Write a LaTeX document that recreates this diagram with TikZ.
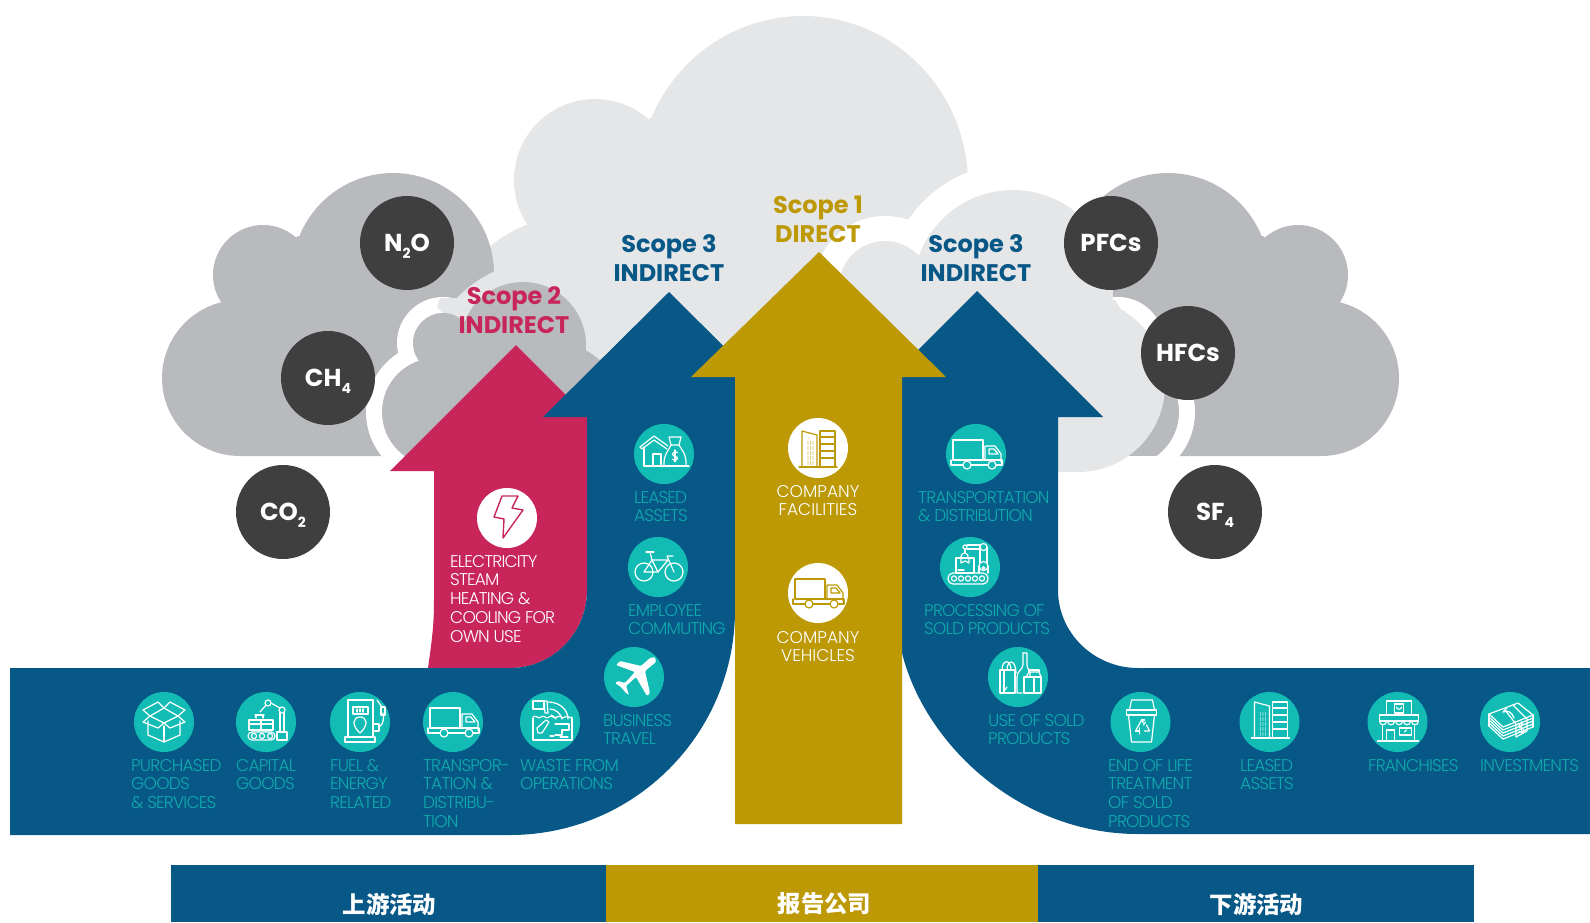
\documentclass[tikz,border=0pt]{standalone}
\usepackage{fontspec}
\setmainfont{Poppins}
\newfontfamily\lightf{Poppins Light}[LetterSpace=-4.8]
\newfontfamily\lightw{Poppins Light}
\newfontfamily\cjk{Noto Sans CJK SC}
\definecolor{cpink}{HTML}{C8265B}
\definecolor{cblue}{HTML}{075787}
\definecolor{cgold}{HTML}{BC9905}
\definecolor{cdark}{HTML}{3F3F40}
\definecolor{cgray}{HTML}{B9BABD}
\definecolor{clight}{HTML}{E5E6E8}
\definecolor{cteal}{HTML}{12BCB5}
\definecolor{ctext}{HTML}{10AAAC}
\newcommand{\gsub}[1]{\smash{\raisebox{-.3em}{\fontsize{14}{14}\selectfont #1}}}
\tikzset{
  gas/.style={circle,fill=cdark,minimum size=94pt,inner sep=0pt,text=white,font=\bfseries\fontsize{24.5}{28}\selectfont},
  teal/.style={circle,fill=cteal,minimum size=60pt,inner sep=0pt},
  whitec/.style={circle,fill=white,minimum size=60pt,inner sep=0pt},
  lab/.style={anchor=north west,inner sep=0pt,align=left,text=ctext,font=\lightf\fontsize{17}{18.7}\selectfont},
  labw/.style={lab,text=white},
  labc/.style={anchor=north,inner sep=0pt,align=center,text=white,font=\lightw\fontsize{17}{18.7}\selectfont},
  scope title/.style={inner sep=0pt,align=center,font=\bfseries\fontsize{24}{28.5}\selectfont},
  bar label/.style={inner sep=0pt,text=white,font=\cjk\bfseries\fontsize{23.4}{26}\selectfont},
  icw/.style={color=white,line width=1.2pt,line join=round,line cap=round},
  icg/.style={color=cgold,line width=1.2pt,line join=round,line cap=round},
  icp/.style={color=cpink,line width=1.4pt,line join=round,line cap=round},
  pics/icbox/.style={code={
    \draw (-16,-1)--(-16,13)--(0,20)--(16,13)--(16,-1);
    \draw (0,4)--(0,20);
    \draw (0,-14)--(14,-6)--(0,1)--(-14,-6)--cycle;
    \draw (-14,-6)--(-21,-12)--(-6,-20)--(0,-14)--(6,-20)--(21,-12)--(14,-6);
    \draw (-14,-6)--(-21,0)--(-6,6)--(0,1)--(6,6)--(21,0)--(14,-6);
  }},
  pics/icrobot/.style={code={
    \draw[rounded corners=4pt] (-18,10)rectangle(9,18);
    \foreach \q in {-12,-4,4}{\draw (\q,14) circle[radius=2.6];}
    \draw (-17,-2)rectangle(-5,8);\draw (-5,-2)rectangle(7,8);
    \draw (-17,2)--(7,2);
    \draw (11,10)rectangle(21,18);
    \draw (14,10)--(14,-10);\draw (18,10)--(18,-10);
    \draw (16,-12) circle[radius=3];\draw (2,-19) circle[radius=3];
    \draw (5,-19)--(14,-14);\draw (0,-17)--(-6,-10);
    \draw (-11,-7)--(-2,-7);\draw (-10,-7)--(-10,-4);\draw (-3,-7)--(-3,-4);
  }},
  pics/icfuel/.style={code={
    \draw (-12,15)--(-12,-22)--(13,-22)--(13,15);
    \draw (-15,15)rectangle(15,20);
    \draw (-7,-15)rectangle(8,-8);
    \foreach \q in {-3,0,3}{\draw (\q,-13)--(\q,-10);}
    \draw (0,11) .. controls (-9,3) and (-7,-5) .. (0,-5) .. controls (7,-5) and (9,3) .. (0,11);
    \draw (13,2)--(19,2)--(19,9)--(13,9);
    \draw (19,5) .. controls (24,3) and (24,-6) .. (23,-9);
    \draw (21,-15)rectangle(25,-7);
    \draw (17,-22)--(22,-15);
  }},
  pics/ictruck/.style={code={
    \draw (-23,6)--(-23,-14)--(7,-14)--(7,6);
    \draw (9,6)--(9,-8)--(19,-8)--(25,0)--(25,8);
    \draw (13,-5)--(18,-5)--(22,0)--(13,0)--cycle;
    \draw (-23,6)--(25,6);
    \draw (-25,11)--(-13,11);\draw (-5,11)--(12,11);\draw (20,11)--(26,11);\draw (-25,6)--(-25,11);\draw (26,6)--(26,11);
    \draw (-9,11) circle[radius=4];\draw (16,11) circle[radius=4];
  }},
  pics/icwaste/.style={code={
    \draw (-17,-13)rectangle(-6,-21);\draw (-6,-21)--(-3,-21)--(-2,-9)--(-5,-9)--cycle;
    \draw (-2,-20) .. controls (10,-20) and (18,-12) .. (18,-3);
    \draw (0,-13) .. controls (6,-13) and (11,-8) .. (12,-3);
    \draw (1,-7) .. controls (3,-6) and (5,-5) .. (6,-3);
    \draw (-17,-5) .. controls (-14,-8) and (-12,-2) .. (-9,-5) .. controls (-6,-8) and (-4,-2) .. (-1,-5) .. controls (2,-8) and (4,-2) .. (7,-5) .. controls (10,-8) and (12,-2) .. (15,-5) .. controls (18,-8) and (20,-2) .. (22,-5);
    \draw (-17,-4)--(-17,18)--(22,18)--(22,-4);
    \draw (-13,6)--(-4,-2)--(-1,0)--(-8,11)--(-12,11)--cycle;
    \draw (5,2)--(19,2)--(19,8)--(12,8)--(12,13)--(5,13);
    \draw (0,14)--(4,14);\draw (10,15)--(18,15);
  }},
  pics/icplane/.style={code={
    \fill[rounded corners=1.2pt] (21,-20)--(22,-15)--(11,-6)--(16,16)--(13,19)--(2,0)--(-8,9)--(-5,18)--(-8,16)--(-13,10)--(-19,6)--(-16,4)--(-9,6)--(1,-5)--(-18,-12)--(-14,-16)--(7,-11)--(16,-19)--cycle;
  }},
  pics/ichouse/.style={code={
    \draw (-24,-7)--(-10,-18)--(4,-8);\draw (-24,-7)--(-22,-5)--(-10,-14)--(3,-5);
    \draw (-20,-7)--(-20,12)--(25,12);
    \draw (-11,12)--(-11,0)--(-3,0)--(-3,12);
    \draw (0,12) .. controls (-1,0) and (6,-5) .. (7,-9)--(15,-9) .. controls (17,-5) and (23,0) .. (22,12);
    \draw (7,-9)--(5,-17)--(17,-17)--(15,-9);
    \begin{scope}[shift={(11,1)},scale=.85]
      \draw (3,-3) .. controls (1,-5) and (-3,-4) .. (-3,-1) .. controls (-3,2) and (3,1) .. (3,4) .. controls (3,7) and (-1,7) .. (-3,5);
      \draw (0,-6)--(0,8);
    \end{scope}
  }},
  pics/icbike/.style={code={
    \draw (-14,5) circle[radius=9];\draw (16,5) circle[radius=9];
    \draw (-14,5)--(0,5)--(10,-7)--(-6,-7)--cycle;
    \draw (-6,-7)--(0,5);\draw (-6,-7)--(-8,-15);\draw (-12,-15)--(-4,-15);
    \draw (16,5)--(9,-11)--(15,-11);
  }},
  pics/icproc/.style={code={
    \draw[rounded corners=5pt] (-22,6)rectangle(18,17);
    \foreach \q in {-16,-9,-2,5,12}{\draw (\q,11.5) circle[radius=2.6];}
    \draw (-14,-9)rectangle(4,6);\draw (-9,-9)--(-9,-4)--(-5,-6)--(-1,-4)--(-1,-9);
    \draw (-12,3)--(-6,3);
    \draw (9,6)--(9,-1);\draw (18,6)--(18,-1);\draw (13.5,-1) circle[radius=4.5];\draw (13.5,1) circle[radius=1.4];
    \draw (10,-4)--(10,-20);\draw (17,-4)--(17,-20);
    \draw (13.5,-20) circle[radius=3.5];
    \draw (10,-22)--(-3,-22);\draw (10,-18)--(-3,-18);
    \draw (-5,-20) circle[radius=2];\draw (-5,-18)--(-5,-14);
    \draw (-9,-10) .. controls (-9,-14) and (-5,-14) .. (-5,-14) .. controls (-2,-14) and (-2,-11) .. (-2,-10);
  }},
  pics/icuse/.style={code={
    \draw (-18,-7)rectangle(-3,16);\draw (-14,-7)--(-14,16);
    \draw (-16,-7) .. controls (-16,-18) and (-7,-18) .. (-7,-7);
    \draw (-11,-7) .. controls (-11,-18) and (-2,-18) .. (-2,-4);
    \draw (-15,10)--(-13,13)--(-11,10);
    \draw (5,-24)--(9,-24)--(9,-12) .. controls (9,-8) and (13,-6) .. (12,-1);
    \draw (5,-24)--(5,-12) .. controls (5,-8) and (-1,-6) .. (-1,0)--(-1,16)--(4,16);
    \draw (6,16)--(23,16)--(23,0)--(6,0)--cycle;
    \draw (8,0)--(11,-5)--(21,-5)--(23,0);\draw (11,-5)--(11,-7)--(21,-7)--(21,-5);
    \draw (16,0)--(16,16);
  }},
  pics/ictrash/.style={code={
    \draw (-14,-12)--(16,-12)--(16,-7)--(-14,-7)--cycle;
    \draw (-11,-12)--(-9,-22)--(12,-22)--(14,-12);
    \draw (-12,-7)--(-9,20)--(11,20)--(14,-7);
    \draw (-5,9)--(1,-2)--(3,1);\draw (6,3)--(9,9)--(4,9);\draw (-1,9)--(-5,9);
    \draw (-1,12)--(-1,6);\draw (5,0)--(3,3);\draw (1,-2)--(4,-2);
  }},
  pics/icbuild/.style={code={
    \draw (-15,16)--(-15,-20)--(0,-16)--(0,16);
    \draw (3,16)--(3,-20)--(18,-20)--(18,16);
    \foreach \q in {-14,-7,0,7}{\draw (3,\q)--(18,\q);}
    \draw (-18,16)--(20,16);
    \foreach \q in {-9,-6.5,-4}{\foreach \r in {-9,-4,1,6,11}{\fill (\q,\r) circle[radius=.55];\fill (\q,\r+2) circle[radius=.55];}}
  }},
  pics/icshop/.style={code={
    \draw (-11,-7)--(-11,-21)--(14,-21)--(14,-7);
    \draw (-3,-18)rectangle(6,-9);\draw (-1,-15) .. controls (-1,-12) and (4,-12) .. (4,-15);
    \draw (-18,-7)--(21,-7)--(21,-1)--(-18,-1)--cycle;
    \foreach \q in {-18,-10,-2,6,14}{\draw (\q,-1) .. controls (\q,4) and (\q+7,4) .. (\q+7,-1);}
    \draw (-15,4)--(-15,19);\draw (17,4)--(17,19);
    \draw (-20,19)--(21,19);
    \draw (-11,19)--(-11,8)--(-3,8)--(-3,19);
    \draw (2,6)rectangle(14,13);\draw (7,10)--(9,8);
  }},
  pics/icmoney/.style={code={
    \foreach \d in {0,3,6,9,12}{\draw (-21,-8+\d)--(-7,5+\d)--(23,-7+\d);}
    \draw (-21,-8)--(8,-19)--(23,-7);
    \draw (-21,-8)--(-21,4);\draw (23,-7)--(23,5);
    \draw (-3,-14)--(-7,-10) .. controls (-2,-12) and (2,-10) .. (4,-4);
    \draw (3,-17)--(17,-3)--(17,9)--(6,15)--(6,2)--(-5,-12);
    \begin{scope}[shift={(11.5,5)},scale=.9]
      \draw (3,-3) .. controls (1,-5) and (-3,-4) .. (-3,-1) .. controls (-3,2) and (3,1) .. (3,4) .. controls (3,7) and (-1,7) .. (-3,5);
      \draw (0,-6)--(0,8);
    \end{scope}
  }},
  pics/icbolt/.style={code={
    \draw (-5,-22)--(-13,-1)--(-3,1)--(-4,20)--(16,-8)--(5,-10)--(11,-22)--cycle;
  }},
}
\newcommand{\darkcloud}{%
  \fill[cgray] (393,274) circle[radius=101];
  \fill[cgray] (263,275) circle[radius=50];
  \fill[cgray] (240,378) circle[radius=78];
  \fill[cgray] (221,304)--(298,236)--(391,274)--(492,274)--(440,320)--(387,456)--(240,456)--(240,378)--cycle;
  \fill[white] (443,343) circle[radius=46];
  \fill[white] (436,412) circle[radius=70];
}
\begin{document}
\begin{tikzpicture}[x=1pt,y=-1pt]
\useasboundingbox (0,0) rectangle (1590,922);
% big light cloud
\fill[clight] (803,184) ellipse[x radius=165,y radius=168];
\fill[clight] (595,180) circle[radius=81];
\fill[clight] (570,340) circle[radius=123];
\fill[clight] (595,180)--(651,117)--(800,184)--(960,200)--(800,400)--(570,400)--(527,226)--cycle;
% dark clouds
\darkcloud
\begin{scope}[xshift=1561pt,xscale=-1]
  \darkcloud
  \begin{scope}
    \clip (300,300) rectangle (600,455);
    \fill[cgray] (436,412) circle[radius=54];
  \end{scope}
\end{scope}
% light patch above scope 2 cloud
\fill[clight] (497,270) .. controls (480,278) and (466,288) .. (457,298)--(440,298)--(437,307)--(443,313)--(470,345)--(523,345)--(540,270)--cycle;
% scope 2 cloud
\fill[cgray] (523,345) circle[radius=63];
\fill[cgray] (443,343) circle[radius=30];
\fill[cgray] (436,412) circle[radius=54];
\fill[cgray] (540,430) circle[radius=92];
\fill[cgray] (443,343)--(523,345)--(540,430)--(436,466)--(436,412)--cycle;
% right light cloud with white rim
\begin{scope}
  \clip (700,100) rectangle (1013,500);
  \fill[white] (1013,290) circle[radius=126];
\end{scope}
\fill[white] (885,287) circle[radius=71];
\fill[clight] (1013,290) circle[radius=100];
\fill[clight] (885,287) circle[radius=46];
\fill[clight] (1078,385) circle[radius=87];
\fill[clight] (850,287) rectangle (1080,472);
\fill[clight] (1013,290)--(1115,300)--(1140,340)--(1078,385)--cycle;
% arrows
\fill[cpink] (516,345)--(642,471)--(587,471)--(587,590) .. controls (587,633) and (553,668) .. (510,668)--(428,668) .. controls (432,640) and (434,625) .. (434,600)--(434,471)--(390,471)--cycle;
\fill[cblue] (669,292)--(795,417)--(735,417)--(735,610) .. controls (735,734) and (634,835) .. (510,835)--(10,835)--(10,668)--(510,668) .. controls (553,668) and (587,633) .. (587,590)--(587,417)--(543,417)--cycle;
\fill[cblue] (977,291)--(1103,417)--(1058,417)--(1058,590) .. controls (1058,633) and (1094,668) .. (1138,668)--(1590,668)--(1590,834)--(1138,834) .. controls (1020,834) and (925,745) .. (902,653)--(851,417)--cycle;
\fill[cgold] (819,252)--(946,377)--(902,377)--(902,824)--(735,824)--(735,377)--(691,377)--cycle;
% bottom bars
\fill[cblue] (171,865) rectangle (606,922);
\fill[cgold] (606,865) rectangle (1038,922);
\fill[cblue] (1038,865) rectangle (1474,922);
\node[bar label] (bar1) at (389.5,904) {上游活动};
\node[bar label] (bar2) at (824.5,904) {报告公司};
\node[bar label] (bar3) at (1256.5,904) {下游活动};
% gases
\node[gas] (n2o) at (407,243) {N\gsub{2}O};
\node[gas] (ch4) at (328,378) {CH\gsub{4}};
\node[gas] (co2) at (283,512) {CO\gsub{2}};
\node[gas] (pfc) at (1111,243) {PFCs};
\node[gas] (hfc) at (1188,353) {HFCs};
\node[gas] (sf4) at (1215,512) {SF\gsub{4}};
% titles
\node[scope title,text=cpink] (t2) at (514,310) {Scope 2\\INDIRECT};
\node[scope title,text=cblue] (t3a) at (669,258) {Scope 3\\INDIRECT};
\node[scope title,text=cgold] (t1) at (818,219.5) {Scope 1\\DIRECT};
\node[scope title,text=cblue] (t3b) at (976,258) {Scope 3\\INDIRECT};
% icons
\node[whitec] (cbolt) at (507,518) {}; \pic[icp] at (cbolt) {icbolt};
\node[whitec] (cfac) at (818,448) {}; \pic[icg] at ([xshift=-1pt,yshift=-3pt]cfac) {icbuild};
\node[whitec] (cveh) at (818,593) {}; \pic[icg] at (cveh) {ictruck};
\node[teal] (c1) at (164,722) {}; \pic[icw] at (c1) {icbox};
\node[teal] (c2) at (266,722) {}; \pic[icw] at (c2) {icrobot};
\node[teal] (c3) at (360,722) {}; \pic[icw] at (c3) {icfuel};
\node[teal] (c4) at (453,722) {}; \pic[icw] at (c4) {ictruck};
\node[teal] (c5) at (550,722) {}; \pic[icw] at (c5) {icwaste};
\node[teal] (c6) at (634,677) {}; \pic[icw] at (c6) {icplane};
\node[teal] (c7) at (658,567) {}; \pic[icw] at (c7) {icbike};
\node[teal] (c8) at (664,454) {}; \pic[icw] at (c8) {ichouse};
\node[teal] (c9) at (976,454) {}; \pic[icw] at (c9) {ictruck};
\node[teal] (c10) at (970,567) {}; \pic[icw] at (c10) {icproc};
\node[teal] (c11) at (1018,677) {}; \pic[icw] at (c11) {icuse};
\node[teal] (c12) at (1140.5,722) {}; \pic[icw] at (c12) {ictrash};
\node[teal] (c13) at (1269.5,722) {}; \pic[icw] at (c13) {icbuild};
\node[teal] (c14) at (1397.5,722) {}; \pic[icw] at (c14) {icshop};
\node[teal] (c15) at (1510,722) {}; \pic[icw] at (c15) {icmoney};
% labels
\node[labw] (l0) at (450,555) {ELECTRICITY\\STEAM\\HEATING \&\\COOLING FOR\\OWN USE};
\node[labc] (lfac) at (818,485) {COMPANY\\FACILITIES};
\node[labc] (lveh) at (818,631) {COMPANY\\VEHICLES};
\node[lab] (l1) at (131,759) {PURCHASED\\GOODS\\\& SERVICES};
\node[lab] (l2) at (236,759) {CAPITAL\\GOODS};
\node[lab] (l3) at (330,759) {FUEL \&\\ENERGY\\RELATED};
\node[lab] (l4) at (423,759) {TRANSPOR-\\TATION \&\\DISTRIBU-\\TION};
\node[lab] (l5) at (520,759) {WASTE FROM\\OPERATIONS};
\node[lab] (l6) at (603,714) {BUSINESS\\TRAVEL};
\node[lab] (l7) at (628,604) {EMPLOYEE\\COMMUTING};
\node[lab] (l8) at (634,491) {LEASED\\ASSETS};
\node[lab] (l9) at (918,491) {TRANSPORTATION\\\& DISTRIBUTION};
\node[lab] (l10) at (924,604) {PROCESSING OF\\SOLD PRODUCTS};
\node[lab] (l11) at (988,714) {USE OF SOLD\\PRODUCTS};
\node[lab] (l12) at (1108,759) {END OF LIFE\\TREATMENT\\OF SOLD\\PRODUCTS};
\node[lab] (l13) at (1240,759) {LEASED\\ASSETS};
\node[lab] (l14) at (1368,759) {FRANCHISES};
\node[lab] (l15) at (1480,759) {INVESTMENTS};
\end{tikzpicture}
\end{document}
